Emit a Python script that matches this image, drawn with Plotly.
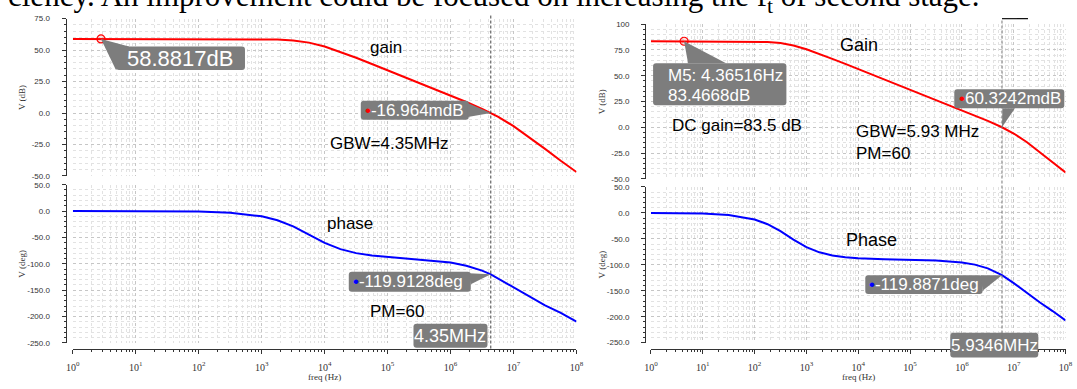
import math
import plotly.graph_objects as go

W, H = 1077, 389

# ---------------- data ----------------
freq_left = [1, 3.16, 10, 31.6, 100, 316, 1000, 1778, 3162, 5623, 1e4, 1.778e4, 3.162e4,
             5.623e4, 1e5, 3.162e5, 1e6, 1.778e6, 3.162e6, 4.35e6, 5.623e6, 1e7, 1.778e7,
             3.162e7, 5.623e7, 1e8]
gain_left = [58.88, 58.88, 58.88, 58.88, 58.88, 58.87, 58.75, 58.48, 57.72, 55.94, 52.80, 48.60,
             43.89, 38.98, 34.01, 24.02, 13.95, 8.78, 3.32, -0.02, -2.90, -10.39, -19.14,
             -28.52, -37.97, -46.89]
phase_left = [0.0, -0.03, -0.10, -0.32, -1.0, -3.2, -9.9, -17.3, -28.9, -44.5, -60.2, -72.1,
              -79.7, -84.2, -86.8, -91.4, -97.4, -103.5, -112.8, -119.9, -127.5, -145.5,
              -163.0, -178.6, -192.9, -209.4]

freq_right = [1, 3.16, 10, 31.6, 100, 178, 316, 562, 1000, 1778, 3162, 5623, 1e4, 3.162e4, 1e5,
              3.162e5, 1e6, 1.778e6, 3.162e6, 5.93e6, 1e7, 1.778e7, 3.162e7, 5.623e7, 1e8]
gain_right = [83.47, 83.47, 83.47, 83.45, 83.26, 82.83, 81.72, 79.36, 75.70, 71.23, 66.41, 61.47,
              56.49, 46.50, 36.50, 26.50, 16.47, 11.38, 6.18, 0.06, -6.0, -14.2, -23.8, -33.6,
              -43.8]
phase_right = [-0.13, -0.40, -1.28, -4.03, -12.6, -21.7, -35.2, -51.4, -65.9, -75.9, -81.9, -85.4,
               -87.5, -89.4, -90.3, -91.6, -95.4, -99.6, -106.8, -119.9, -135.3, -154.4, -172.2,
               -189.1, -207.3]

# marker read-outs
m_left_freq, m_left_gain = 2.8, 58.8817
ugf_left, ugf_left_gain, ugf_left_phase = 4.35e6, -0.016964, -119.9128
m_right_freq, m_right_gain = 4.36516, 83.4668
ugf_right, ugf_right_gain, ugf_right_phase = 5.9346e6, 0.0603242, -119.8871

decade_vals = [1, 10, 100, 1e3, 1e4, 1e5, 1e6, 1e7, 1e8]
decade_text = ["10<sup>0</sup>", "10<sup>1</sup>", "10<sup>2</sup>", "10<sup>3</sup>",
               "10<sup>4</sup>", "10<sup>5</sup>", "10<sup>6</sup>", "10<sup>7</sup>",
               "10<sup>8</sup>"]
gain_left_ticks = [-50, -25, 0, 25, 50, 75]
gain_left_text = ["-50.0", "-25.0", "0.0", "25.0", "50.0", "75.0"]
gain_right_ticks = [-50, -25, 0, 25, 50, 75, 100]
gain_right_text = ["-50.0", "-25.0", "0.0", "25.0", "50.0", "75.0", "100"]
phase_ticks = [-250, -200, -150, -100, -50, 0, 50]
phase_text = ["-250.0", "-200.0", "-150.0", "-100.0", "-50.0", "0.0", "50.0"]

top_text = "ciency. An improvement could be focused on increasing the f<sub>t</sub> of second stage."


# ---------------- helpers ----------------
def px(x):
    return x / W


def py(y):
    return 1 - y / H


RED = "#ff0000"
BLUE = "#0000ff"
BOX = "#7d7d7d"
GRID = "#c6c6c6"
MINOR = "#e2e2e2"
AX = "#333333"
SANS = "Liberation Sans"
SERIF = "Liberation Serif"

fig = go.Figure()


def line_trace(x, y, color, xa, ya):
    fig.add_trace(go.Scatter(x=x, y=y, mode="lines", line=dict(color=color, width=2),
                             xaxis=xa, yaxis=ya, showlegend=False, hoverinfo="skip"))


line_trace(freq_left, gain_left, RED, "x", "y")
line_trace(freq_left, phase_left, BLUE, "x2", "y2")
line_trace(freq_right, gain_right, RED, "x3", "y3")
line_trace(freq_right, phase_right, BLUE, "x4", "y4")

for fx, gy, xa, ya in [(m_left_freq, m_left_gain, "x", "y"), (m_right_freq, m_right_gain, "x3", "y3")]:
    fig.add_trace(go.Scatter(x=[fx], y=[gy], mode="markers", xaxis=xa, yaxis=ya,
                             marker=dict(symbol="circle", size=8, color="rgba(255,0,0,0.12)",
                                         line=dict(color=RED, width=1.2)),
                             showlegend=False, hoverinfo="skip"))


def xaxis_def(domain, anchor, bottom):
    d = dict(type="log", range=[0, 8], domain=domain, showgrid=True, gridcolor=GRID,
             griddash="dot", gridwidth=1, zeroline=False, tickvals=decade_vals,
             ticktext=decade_text,
             minor=dict(dtick="D1", showgrid=True, gridcolor=MINOR, griddash="dot"))
    if bottom:
        d.update(anchor="free", position=py(352.7), showline=True, linecolor=AX, linewidth=1,
                 ticks="outside", ticklen=4, tickcolor=AX, showticklabels=True,
                 tickfont=dict(family=SERIF, size=10, color=AX), ticklabelstandoff=5)
        d["minor"].update(ticks="outside", ticklen=2, tickcolor=AX)
    else:
        d.update(anchor=anchor, showticklabels=False, ticks="", showline=False)
    return d


def yaxis_def(domain, rng, tv, tt, minor_step, pos):
    return dict(domain=domain, range=rng, anchor="free", position=pos, tickvals=tv, ticktext=tt,
                showline=True, linecolor=AX, linewidth=1, ticks="outside", ticklen=4,
                tickcolor=AX, zeroline=False, showgrid=True, gridcolor=GRID, griddash="dot",
                tickfont=dict(family=SANS, size=8, color=AX), ticklabelstandoff=10,
                minor=dict(dtick=minor_step, tick0=0, ticks="outside", ticklen=2, tickcolor=AX,
                           showgrid=True, gridcolor=MINOR, griddash="dot"))


L_DOM = [px(66.7), px(577)]
R_DOM = [px(652.4), px(1072.5)]

fig.update_layout(
    width=W, height=H, margin=dict(l=0, r=0, t=0, b=0),
    paper_bgcolor="white", plot_bgcolor="white", showlegend=False,
    xaxis=xaxis_def(L_DOM, "y", False),
    xaxis2=xaxis_def(L_DOM, "y2", True),
    xaxis3=xaxis_def(R_DOM, "y3", False),
    xaxis4=xaxis_def(R_DOM, "y4", True),
    yaxis=yaxis_def([py(176), py(15)], [-50, 75], gain_left_ticks, gain_left_text, 5, px(59.3)),
    yaxis2=yaxis_def([py(347), py(185)], [-250, 50], phase_ticks, phase_text, 10, px(59.3)),
    yaxis3=yaxis_def([py(179), py(20.7)], [-50, 100], gain_right_ticks, gain_right_text, 5, px(646.5)),
    yaxis4=yaxis_def([py(346.7), py(187.3)], [-250, 50], phase_ticks, phase_text, 10, px(646.5)),
)

shapes = []
annotations = []


def rrect_path(x0, x1, y0, y1, r=3):
    return (f"M {x0 + r},{y0} L {x1 - r},{y0} Q {x1},{y0} {x1},{y0 + r} L {x1},{y1 - r} "
            f"Q {x1},{y1} {x1 - r},{y1} L {x0 + r},{y1} Q {x0},{y1} {x0},{y1 - r} "
            f"L {x0},{y0 + r} Q {x0},{y0} {x0 + r},{y0} Z")


def callout(xref, yref, xa, ya, rect, wedge=None):
    x0, x1, y0, y1 = rect
    shapes.append(dict(type="path", xref=xref, yref=yref, xsizemode="pixel", ysizemode="pixel",
                       xanchor=xa, yanchor=ya, path=rrect_path(x0, x1, y0, y1),
                       fillcolor=BOX, line=dict(width=0), layer="above"))
    if wedge:
        p = "M " + " L ".join(f"{a},{b}" for a, b in wedge) + " Z"
        shapes.append(dict(type="path", xref=xref, yref=yref, xsizemode="pixel", ysizemode="pixel",
                           xanchor=xa, yanchor=ya, path=p, fillcolor=BOX, line=dict(width=0),
                           layer="above"))


def label(xref, yref, x, y, text, size, xshift=0, yshift=0, xanchor="center", color="white",
          family=SANS, angle=0):
    annotations.append(dict(xref=xref, yref=yref, x=x, y=y, text=text, showarrow=False,
                            xshift=xshift, yshift=yshift, xanchor=xanchor, yanchor="middle",
                            textangle=angle, font=dict(family=family, size=size, color=color)))


# ---- left chart callouts ----
callout("x", "y", m_left_freq, m_left_gain, (15, 144, -31, -7.5), [(0, 0), (28, -7.5), (15, -31)])
label("x", "y", math.log10(m_left_freq), m_left_gain, f"{m_left_gain:.4f}dB", 22,
      xshift=79.5, yshift=-19.5)

callout("x", "y", ugf_left, ugf_left_gain, (-130, -22, -6.6, 12.4), [(0, 0), (-23, 10), (-23, -4)])
label("x", "y", math.log10(ugf_left), ugf_left_gain,
      f'<span style="color:{RED}">•</span>{ugf_left_gain * 1000:.3f}mdB', 17,
      xshift=-128, yshift=2.9, xanchor="left")

callout("x2", "y2", ugf_left, ugf_left_phase, (-142, -20, -17.5, 2.5), [(0, 0), (-22, 1), (-20, -10)])
label("x2", "y2", math.log10(ugf_left), ugf_left_phase,
      f'<span style="color:{BLUE}">•</span>{ugf_left_phase:.4f}deg', 17,
      xshift=-140, yshift=-7.5, xanchor="left")

shapes.append(dict(type="path", xref="x2", yref="paper", xsizemode="pixel", ysizemode="pixel",
                   xanchor=ugf_left, yanchor=py(352.7), path=rrect_path(-77.3, -3.3, 0.9, 24.7),
                   fillcolor=BOX, line=dict(width=0), layer="above"))
label("x2", "paper", math.log10(ugf_left), py(340), "4.35MHz", 18, xshift=-40.3)

# ---- right chart callouts ----
callout("x3", "y3", m_right_freq, m_right_gain, (-31, 102.3, -64, -22), [(0, 0), (4, -22), (42, -22)])
label("x3", "y3", math.log10(m_right_freq), m_right_gain, f"M5: {m_right_freq:.5f}Hz", 17,
      xshift=-18, yshift=-33.8, xanchor="left")
label("x3", "y3", math.log10(m_right_freq), m_right_gain, f"{m_right_gain:.4f}dB", 17,
      xshift=-18, yshift=-53.8, xanchor="left")

callout("x3", "y3", ugf_right, ugf_right_gain, (-47.7, 62.3, 18.9, 37.9), [(0, 0), (0.5, 19), (13, 19)])
label("x3", "y3", math.log10(ugf_right), ugf_right_gain,
      f'<span style="color:{RED}">•</span>{ugf_right_gain * 1000:.4f}mdB', 17,
      xshift=-45, yshift=28.4, xanchor="left")

callout("x4", "y4", ugf_right, ugf_right_phase, (-136.7, -19.4, -18.9, -0.1),
        [(0, 0), (-21, -0.1), (-19.4, -15.5)])
label("x4", "y4", math.log10(ugf_right), ugf_right_phase,
      f'<span style="color:{BLUE}">•</span>{ugf_right_phase:.4f}deg', 17,
      xshift=-135, yshift=-9.5, xanchor="left")

shapes.append(dict(type="path", xref="x4", yref="paper", xsizemode="pixel", ysizemode="pixel",
                   xanchor=ugf_right, yanchor=py(352.7), path=rrect_path(-51.7, 36.3, -9, 15.7),
                   fillcolor=BOX, line=dict(width=0), layer="above"))
label("x4", "paper", math.log10(ugf_right), py(349.3), f"{ugf_right / 1e6:.4f}MHz", 17, xshift=-7.7)

# ---- cursor lines ----
shapes.append(dict(type="line", xref="x", yref="paper", x0=ugf_left, x1=ugf_left,
                   y0=py(352.7), y1=py(10), line=dict(color="#444444", width=1, dash="3px,2px"),
                   layer="above"))
shapes.append(dict(type="line", xref="x3", yref="paper", x0=ugf_right, x1=ugf_right,
                   y0=py(352.7), y1=py(15), line=dict(color="#777777", width=1, dash="3px,2px"),
                   layer="above"))
shapes.append(dict(type="line", xref="x3", yref="paper", xsizemode="pixel", xanchor=ugf_right,
                   x0=0, x1=26, y0=py(15), y1=py(15), line=dict(color="#111111", width=1.2),
                   layer="above"))

# ---- free text ----
label("paper", "paper", px(384), py(45), "gain", 17, color="black")
label("paper", "paper", px(387.5), py(143), "GBW=4.35MHz", 17, color="black")
label("paper", "paper", px(348), py(225), "phase", 17, color="black")
label("paper", "paper", px(395.5), py(315), "PM=60", 17, color="black")

label("paper", "paper", px(863), py(41.7), "Gain", 18, color="black")
label("paper", "paper", px(671.7), py(124), "DC gain=83.5 dB", 17, xanchor="left", color="black")
label("paper", "paper", px(858.3), py(130.7), "GBW=5.93 MHz", 17, xanchor="left", color="black")
label("paper", "paper", px(858.3), py(153.3), "PM=60", 17, xanchor="left", color="black")
label("paper", "paper", px(876), py(241.7), "Phase", 18, color="black")

# axis titles
for xp, yp, t in [(15, 95.5, "V (dB)"), (15, 266, "V (deg)"), (602.4, 100, "V (dB)"),
                  (602.4, 267, "V (deg)")]:
    label("paper", "paper", px(xp), py(yp), t, 9, color=AX, family=SERIF, angle=-90)
for xp in [321.9, 862.5]:
    label("paper", "paper", px(xp), py(381.5), "freq (Hz)", 9, color=AX, family=SERIF)

# cut-off sentence at the top
annotations.append(dict(xref="paper", yref="paper", x=px(-1), y=py(16), xanchor="left",
                        yanchor="bottom", text=top_text, showarrow=False,
                        font=dict(family=SERIF, size=31, color="black")))

fig.update_layout(shapes=shapes, annotations=annotations)
fig.write_html("out.html")
